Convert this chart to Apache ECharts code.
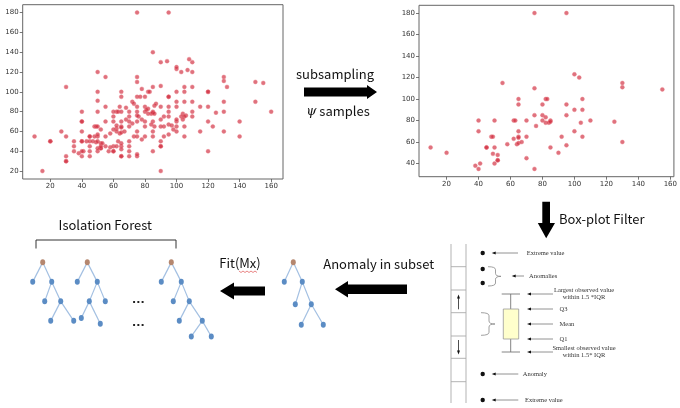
<!DOCTYPE html>
<html>
<head>
<meta charset="utf-8">
<script src="https://cdn.jsdelivr.net/npm/echarts@6/dist/echarts.min.js"></script>
<style>
html, body { margin: 0; padding: 0; background: #fff; }
#chart-container { width: 680px; height: 408px; }
</style>
</head>
<body>
<div id="chart-container"></div>
<script>
// points kept by subsampling (shown in both scatter plots)
const samplePoints = [
  [75,180],[95,180],[55,115],[100,123],[103,120],[130,115],[130,111],[155,109],[75,110],
  [65,100],[65,95],[82,100],[83,100],[105,100],[80,95],[95,95],[100,90],[105,90],
  [75,85],[80,85],[95,85],[82,83],[40,80],[50,80],[62,80],[63,80],[70,80],[80,80],[85,80],[110,80],
  [82,78],[84,78],[85,79],[76,75],[104,78],[125,79],[40,70],[100,70],[65,70],
  [48,65],[49,65],[65,65],[65,64],[70,65],[92,65],[105,65],[62,63],
  [64,58],[65,59],[67,60],[58,58],[130,60],[10,55],[45,55],[45,55],[50,55],[85,55],[95,57],
  [20,50],[49,49],[52,48],[52,43],[52,43],[70,45],[90,50],[41,40],[50,40],[38,38],[40,35],[75,35]
];
// the remaining points of the full data set
const restPoints = [
  [85,140],[90,130],[94,131],[108,133],[110,130],[100,125],[107,122],[110,120],[50,120],
  [75,115],[30,105],[90,106],[85,105],[105,105],[110,105],[132,105],[150,110],
  [78,103],[50,100],[100,100],[120,100],[120,100],
  [95,95],[75,95],[77,95],[50,91],[72,90],[73,88],[110,90],[130,90],[150,90],
  [55,85],[64,85],[68,84],[86,86],[87,88],[90,85],[100,85],[115,85],[120,85],
  [60,80],[65,80],[75,80],[81,82],[95,80],[130,80],[160,80],[106,76],[86,78],
  [60,75],[70,75],[75,76],[92,75],[95,75],[103,75],[105,75],[110,75],
  [40,70],[55,70],[60,70],[68,72],[70,70],[75,70],[78,72],[80,70],[85,70],[90,72],[100,72],[104,72],[120,70],[140,70],
  [50,65],[62,66],[72,68],[80,65],[84,67],[86,65],[90,65],[95,67],[97,66],[100,65],[123,65],
  [27,60],[40,60],[52,62],[60,62],[62,60],[75,60],[85,60],[98,62],[100,60],[115,60],
  [30,55],[48,55],[50,57],[55,55],[73,55],[75,55],[80,55],[92,55],[105,55],[140,55],
  [20,50],[35,50],[40,50],[40,50],[43,50],[45,50],[47,50],[50,50],[53,48],[63,50],[70,50],[78,52],
  [35,45],[45,45],[50,43],[52,45],[55,45],[58,44],[60,45],[62,45],[65,45],[65,48],[90,45],[90,45],
  [35,40],[40,40],[45,40],[57,40],[60,40],[60,40],[65,42],[70,40],[85,40],[120,40],
  [30,35],[45,35],[65,35],[65,35],[70,35],[75,37],
  [30,30],[30,30],[15,20],[90,20]
];

const xTicksFull = [20, 40, 60, 80, 100, 120, 140, 160];
const yTicksFull = [20, 40, 60, 80, 100, 120, 140, 160, 180];
const xTicksSample = [20, 40, 60, 80, 100, 120, 140, 160];
const yTicksSample = [40, 60, 80, 100, 120, 140, 160, 180];

// trees: each node is [offset, depth, parent]
const treeShapes = [
  [[0,0,-1],[-1,1,0],[0.9,1,0],[0.2,2,2],[1.8,2,2],[0.8,3,4],[3.1,3,4]],
  [[0,0,-1],[-1,1,0],[1,1,0],[0.2,2,2],[1.8,2,2],[-0.6,2.85,3],[1.3,3.15,3]],
  [[0,0,-1],[-1,1,0],[1,1,0],[0.2,2,2],[1.8,2,2],[0.8,3,4],[3.1,3,4],[2,3.8,6],[4,3.8,6]],
  [[0,0,-1],[-0.9,1,0],[0.9,1,0],[0.2,2.15,2],[1.8,2.15,2],[0.8,3.2,4],[3,3.2,4]]
];
const treeRoots = [[4.27, 1.66], [8.73, 1.66], [17.13, 1.66], [29.33, 1.66]];

// box-plot explanation
const boxStats = [51, 64, 79, 94, 109]; // low whisker, Q1, mean, Q3, high whisker
const outlierValues = [150, 134, 120, 29, 3];
const boxNotes = [
  ['Extreme value', 150, 'outlier'],
  ['Anomalies', 127, 'group'],
  ['Largest observed value\nwithin 1.5 *IQR', 109, 'stat'],
  ['Q3', 94, 'stat'],
  ['Mean', 79, 'stat'],
  ['Q1', 64, 'stat'],
  ['Smallest observed value\nwithin 1.5* IQR', 51, 'stat'],
  ['Anomaly', 29, 'outlier2'],
  ['Extreme value', 3, 'outlier3']
];

var dom = document.getElementById('chart-container');
var myChart = echarts.init(dom, null, { renderer: 'canvas' });

function plotAxis(gridIndex, min, max, ticks) {
  return {
    gridIndex: gridIndex,
    type: 'value',
    min: min,
    max: max,
    axisLine: { show: false },
    splitLine: { show: false },
    axisTick: { show: true, length: 3, customValues: ticks, lineStyle: { color: '#555', width: 0.8 } },
    axisLabel: { customValues: ticks, fontSize: 7, color: '#333', margin: 4, fontFamily: 'DejaVu Sans' }
  };
}
function hiddenAxis(gridIndex, min, max, inverse) {
  return { gridIndex: gridIndex, type: 'value', min: min, max: max, inverse: !!inverse, show: false };
}

// tree nodes and links
const treeNodes = [];
const treeLinks = [];
treeShapes.forEach(function (shape, t) {
  const base = treeNodes.length;
  shape.forEach(function (n, i) {
    treeNodes.push({
      value: [treeRoots[t][0] + n[0], treeRoots[t][1] + n[1]],
      itemStyle: { color: i === 0 ? '#b5876f' : '#5b8cc4' }
    });
    if (n[2] >= 0) treeLinks.push({ source: base + n[2], target: base + i });
  });
});

const dotStyle = {
  color: 'rgba(206,40,58,0.82)',
  borderColor: 'rgba(235,120,130,0.55)',
  borderWidth: 0.9
};

function seg(x1, y1, x2, y2, color, w) {
  return { type: 'line', shape: { x1: x1, y1: y1, x2: x2, y2: y2 }, style: { stroke: color, lineWidth: w || 0.8 } };
}
function headLeft(x, y) {
  return { type: 'polygon', shape: { points: [[x, y], [x + 4, y - 1.6], [x + 4, y + 1.6]] }, style: { fill: '#111' } };
}
function brace(x0, yTop, yBot, a, w) {
  const yMid = (yTop + yBot) / 2, r = 3;
  const d = 'M' + x0 + ',' + yTop + ' Q' + (x0 + a) + ',' + yTop + ' ' + (x0 + a) + ',' + (yTop + r) +
    ' L' + (x0 + a) + ',' + (yMid - r) + ' Q' + (x0 + a) + ',' + yMid + ' ' + (x0 + w) + ',' + yMid +
    ' Q' + (x0 + a) + ',' + yMid + ' ' + (x0 + a) + ',' + (yMid + r) +
    ' L' + (x0 + a) + ',' + (yBot - r) + ' Q' + (x0 + a) + ',' + yBot + ' ' + x0 + ',' + yBot;
  return { type: 'path', shape: { pathData: d }, style: { stroke: '#888', lineWidth: 0.8, fill: null } };
}

function renderBox(params, api) {
  const X = function (px) { return api.coord([px, 0])[0]; };
  const Y = function (v) { return api.coord([0, v])[1]; };
  const kids = [];
  const noteFont = '6.5px "Liberation Serif"';
  // ladder on the left
  kids.push(seg(X(11), Y(159), X(11), Y(0), '#aaa', 0.9));
  kids.push(seg(X(26), Y(159), X(26), Y(0), '#aaa', 0.9));
  [136.3, 113, 90.3, 67, 44.7, 21.3].forEach(function (v) {
    kids.push(seg(X(11), Y(v), X(26), Y(v), '#aaa', 0.9));
  });
  kids.push(seg(X(18.5), Y(93.7), X(18.5), Y(106), '#222', 0.8));
  kids.push({ type: 'polygon', shape: { points: [[X(18.5), Y(108.5)], [X(17), Y(104.5)], [X(20), Y(104.5)]] }, style: { fill: '#111' } });
  kids.push(seg(X(18.5), Y(63), X(18.5), Y(51), '#222', 0.8));
  kids.push({ type: 'polygon', shape: { points: [[X(18.5), Y(48.5)], [X(17), Y(52.5)], [X(20), Y(52.5)]] }, style: { fill: '#111' } });
  // outlier dots
  outlierValues.forEach(function (v) {
    kids.push({ type: 'circle', shape: { cx: X(42.7), cy: Y(v), r: 2.2 }, style: { fill: '#111' } });
  });
  // braces
  kids.push(brace(X(48), Y(136.3), Y(117), 7.5, 13));
  kids.push(brace(X(41), Y(90.3), Y(67.7), 8, 14));
  // box and whiskers
  const lo = boxStats[0], q1 = boxStats[1], q3 = boxStats[3], hi = boxStats[4];
  kids.push(seg(X(70.7), Y(hi), X(70.7), Y(q3), '#777', 0.9));
  kids.push(seg(X(70.7), Y(q1), X(70.7), Y(lo), '#777', 0.9));
  kids.push(seg(X(61.7), Y(hi), X(80), Y(hi), '#777', 0.9));
  kids.push(seg(X(61.7), Y(lo), X(80), Y(lo), '#777', 0.9));
  kids.push({ type: 'rect', shape: { x: X(63.3), y: Y(q3), width: X(78.7) - X(63.3), height: Y(q1) - Y(q3) },
    style: { fill: '#ffffcc', stroke: '#999', lineWidth: 0.8 } });
  // notes with arrows
  boxNotes.forEach(function (n) {
    const y = Y(n[1]);
    let a0, a1, tx, align = 'left';
    if (n[2] === 'outlier') { a0 = 51.7; a1 = 78; tx = 86.7; }
    else if (n[2] === 'outlier2') { a0 = 51.7; a1 = 78.3; tx = 82.7; }
    else if (n[2] === 'outlier3') { a0 = 51.7; a1 = 78.3; tx = 85; }
    else if (n[2] === 'group') { a0 = 71.7; a1 = 84; tx = 89; }
    else {
      a0 = 87; a1 = 113;
      if (n[0].indexOf('\n') >= 0) { tx = 144; align = 'center'; } else { tx = 119.5; }
    }
    kids.push(seg(X(a0) + 2, y, X(a1), y, '#777', 0.8));
    kids.push(headLeft(X(a0), y));
    kids.push({ type: 'text', style: { text: n[0], x: X(tx), y: y, font: noteFont, fill: '#333',
      textAlign: align, textVerticalAlign: 'middle', lineHeight: 7.5 } });
  });
  return { type: 'group', children: kids };
}

const labelFont = '13px "Noto Sans CJK SC"';

var option = {
  backgroundColor: '#fff',
  animation: false,
  grid: [
    { left: 22.7, top: 4.7, width: 260.3, height: 174.3, show: true, borderColor: '#666', borderWidth: 1 },
    { left: 419, top: 5.3, width: 256, height: 171.4, show: true, borderColor: '#666', borderWidth: 1 },
    { left: 0, top: 230, width: 340, height: 117 },
    { left: 440, top: 244, width: 240, height: 159 }
  ],
  xAxis: [
    plotAxis(0, 2.5, 167.5, xTicksFull),
    plotAxis(1, 2.75, 162.25, xTicksSample),
    hiddenAxis(2, 0, 34),
    hiddenAxis(3, 0, 240)
  ],
  yAxis: [
    plotAxis(0, 12, 188, yTicksFull),
    plotAxis(1, 27.75, 187.25, yTicksSample),
    hiddenAxis(2, 0, 6, true),
    hiddenAxis(3, 0, 159)
  ],
  series: [
    {
      name: 'all data',
      type: 'scatter',
      xAxisIndex: 0,
      yAxisIndex: 0,
      symbolSize: 4,
      itemStyle: dotStyle,
      data: samplePoints.concat(restPoints)
    },
    {
      name: 'subsample',
      type: 'scatter',
      xAxisIndex: 1,
      yAxisIndex: 1,
      symbolSize: 4,
      itemStyle: dotStyle,
      data: samplePoints
    },
    {
      name: 'trees',
      type: 'graph',
      coordinateSystem: 'cartesian2d',
      xAxisIndex: 2,
      yAxisIndex: 2,
      symbol: 'circle',
      symbolSize: [5, 6],
      edgeSymbol: ['none', 'none'],
      lineStyle: { color: '#a3c0e2', width: 1.2, opacity: 1 },
      label: { show: false },
      silent: true,
      data: treeNodes,
      links: treeLinks
    },
    {
      name: 'box-plot',
      type: 'custom',
      xAxisIndex: 3,
      yAxisIndex: 3,
      silent: true,
      renderItem: renderBox,
      data: [[0, 0]]
    }
  ],
  graphic: [
    // subsampling arrow
    { type: 'polygon', shape: { points: [[304,87.5],[367,87.5],[367,85],[377,92],[367,99],[367,96.5],[304,96.5]] }, style: { fill: '#000' } },
    { type: 'text', style: { text: 'subsampling', x: 335, y: 74, font: labelFont, fill: '#111', textAlign: 'center', textVerticalAlign: 'middle' } },
    { type: 'text', style: { text: '{p|ψ} samples', x: 338, y: 111.5, font: labelFont, fill: '#111', textAlign: 'center', textVerticalAlign: 'middle',
      rich: { p: { fontStyle: 'italic', fontSize: 13, fontFamily: 'DejaVu Serif', fill: '#111' } } } },
    // box-plot filter arrow
    { type: 'polygon', shape: { points: [[542.3,201.7],[550,201.7],[550,223],[555,223],[546.2,238.3],[537.8,223],[542.3,223]] }, style: { fill: '#000' } },
    { type: 'text', style: { text: 'Box-plot Filter', x: 559, y: 219, font: labelFont, fill: '#111', textAlign: 'left', textVerticalAlign: 'middle' } },
    // anomaly in subset arrow
    { type: 'polygon', shape: { points: [[407,284.5],[348,284.5],[348,281],[335,289.3],[348,297.5],[348,294],[407,294]] }, style: { fill: '#000' } },
    { type: 'text', style: { text: 'Anomaly in subset', x: 378.7, y: 264, font: labelFont, fill: '#111', textAlign: 'center', textVerticalAlign: 'middle' } },
    // fit arrow
    { type: 'polygon', shape: { points: [[265,286.5],[234,286.5],[234,282.5],[220,291],[234,299.5],[234,295.5],[265,295.5]] }, style: { fill: '#000' } },
    { type: 'text', style: { text: 'Fit(Mx)', x: 240, y: 263.3, font: labelFont, fill: '#111', textAlign: 'center', textVerticalAlign: 'middle' } },
    { type: 'polyline', shape: { points: [[239,271],[241,272.5],[243,271],[245,272.5],[247,271],[249,272.5],[251,271],[253,272.5],[255,271],[257,272.5]] },
      style: { stroke: '#e05050', lineWidth: 0.7, fill: null } },
    // isolation forest bracket
    { type: 'polyline', shape: { points: [[36,248.5],[36,240],[176,240],[176,248.5]] }, style: { stroke: '#333', lineWidth: 1, fill: null } },
    { type: 'text', style: { text: 'Isolation Forest', x: 105.3, y: 225, font: labelFont, fill: '#111', textAlign: 'center', textVerticalAlign: 'middle' } },
    { type: 'text', style: { text: '...', x: 138.3, y: 300, font: 'bold 11px "DejaVu Sans"', fill: '#222', textAlign: 'center', textVerticalAlign: 'middle' } },
    { type: 'text', style: { text: '...', x: 138.3, y: 323.5, font: 'bold 11px "DejaVu Sans"', fill: '#222', textAlign: 'center', textVerticalAlign: 'middle' } }
  ]
};

if (option && typeof option === 'object') {
  myChart.setOption(option);
}

window.addEventListener('resize', myChart.resize);
</script>
</body>
</html>
